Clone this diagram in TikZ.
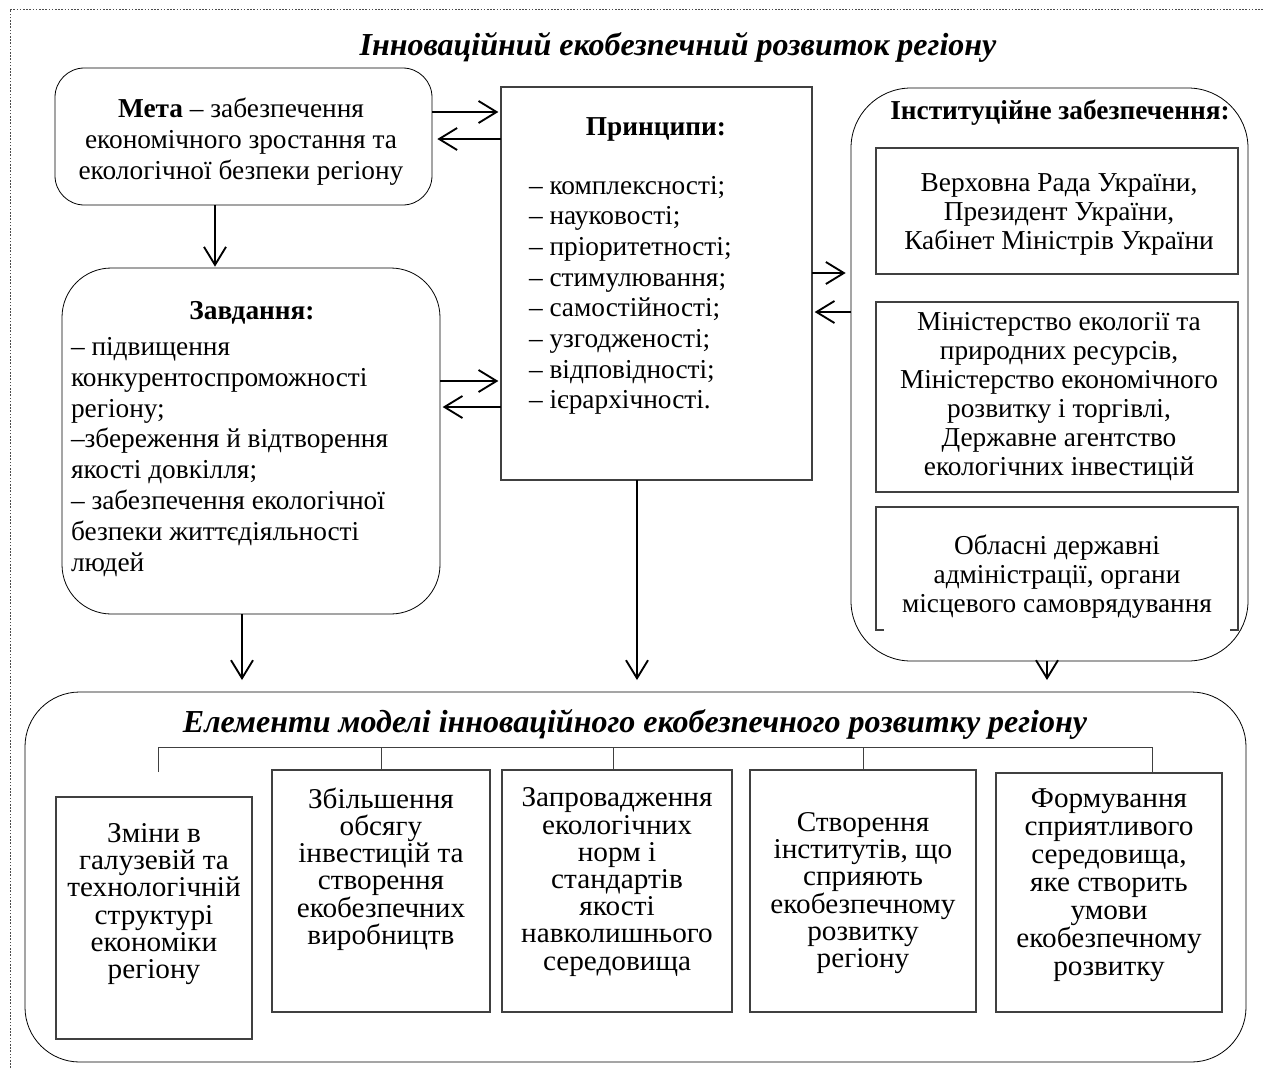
\documentclass[tikz,border=0pt]{standalone}
\usepackage{fontspec}
\setmainfont{Liberation Serif}
\newfontfamily\boxserif[FakeStretch=1.02]{Liberation Serif}
\usetikzlibrary{arrows.meta}
\begin{document}
\begin{tikzpicture}[x=0.75pt,y=-0.75pt,
  every node/.style={inner sep=0pt, outer sep=0pt},
  txt/.style={font=\fontsize{20.5}{23.5}\selectfont, align=center},
  hd/.style={font=\fontsize{20.5}{23.5}\selectfont\bfseries, anchor=base},
  btxt/.style={font=\boxserif\fontsize{21.5}{20.4}\selectfont, align=center},
  ttl/.style={font=\fontsize{24}{28}\selectfont\bfseries\itshape, anchor=base},
  rbox/.style={draw=black, line width=0.6pt},
  sbox/.style={draw=black!75, line width=0.8pt},
  arr/.style={-{Straight Barb[length=13.5pt,width=16.5pt,line width=1.4pt]}, line width=1.4pt},
  thinl/.style={draw=black!75, line width=0.7pt},
  frame/.style={draw=black!70, line width=0.6pt, dash pattern=on 1.2pt off 1.2pt}]
\useasboundingbox (0,0) rectangle (1264,1068);
% dotted frame
\coordinate (fA) at (10,1068);
\coordinate (fB) at (10,9);
\coordinate (fC) at (1264,9);
\draw[frame] (fA) -- (fB) -- (fC);

% title
\node[ttl] (title) at (678,55) {Інноваційний екобезпечний розвиток регіону};

% boxes
\node[rbox, rounded corners=22pt, minimum width={377*0.75pt}, minimum height={137*0.75pt}] (meta) at (243.5,136.5) {};
\node[rbox, rounded corners=37pt, minimum width={378*0.75pt}, minimum height={346*0.75pt}] (zav) at (251,441) {};
\node[sbox, minimum width={311*0.75pt}, minimum height={393*0.75pt}] (princ) at (656.5,283.5) {};
\node[rbox, rounded corners=45pt, minimum width={397*0.75pt}, minimum height={573*0.75pt}] (inst) at (1049.5,374.5) {};
\node[sbox, minimum width={362*0.75pt}, minimum height={126*0.75pt}] (i1) at (1057,211) {};
\node[sbox, minimum width={362*0.75pt}, minimum height={190*0.75pt}] (i2) at (1057,397) {};
\node[minimum width={362*0.75pt}, minimum height={123*0.75pt}] (i3) at (1057,568.5) {};
\draw[sbox] ([xshift=6pt]i3.south west) -- (i3.south west) -- (i3.north west) -- (i3.north east) -- (i3.south east) -- ([xshift=-6pt]i3.south east);

\node[rbox, rounded corners=41pt, minimum width={1221*0.75pt}, minimum height={370*0.75pt}] (elem) at (635.5,877) {};
\node[sbox, minimum width={196*0.75pt}, minimum height={242*0.75pt}] (b1) at (154,918) {};
\node[sbox, minimum width={218*0.75pt}, minimum height={242*0.75pt}] (b2) at (381,891) {};
\node[sbox, minimum width={230*0.75pt}, minimum height={242*0.75pt}] (b3) at (617,891) {};
\node[sbox, minimum width={226*0.75pt}, minimum height={242*0.75pt}] (b4) at (863,891) {};
\node[sbox, minimum width={226*0.75pt}, minimum height={239*0.75pt}] (b5) at (1109,892.5) {};

% texts
\node[txt] (metat) at (241,141.5) {\textbf{Мета} – забезпечення\\економічного зростання та\\екологічної безпеки регіону};
\node[hd] (princt) at (656,135) {Принципи:};
\node[txt, align=left, anchor=west, font=\fontsize{20.5}{23}\selectfont] (princl) at (529,295.5) {– комплексності;\\– науковості;\\– пріоритетності;\\– стимулювання;\\– самостійності;\\– узгодженості;\\– відповідності;\\– ієрархічності.};
\node[hd] (zavt) at (252,319) {Завдання:};
\node[txt, align=left, anchor=west, font=\fontsize{20.5}{23.2}\selectfont] (zavl) at (71,457) {– підвищення\\конкурентоспроможності\\регіону;\\–збереження й відтворення\\якості довкілля;\\– забезпечення екологічної\\безпеки життєдіяльності\\людей};
\node[hd] (instt) at (1060,119) {Інституційне забезпечення:};
\node[txt, font=\fontsize{20.5}{21.75}\selectfont] (i1t) at (1059,214) {Верховна Рада України,\\Президент України,\\Кабінет Міністрів України};
\node[txt, font=\fontsize{20.5}{21.75}\selectfont] (i2t) at (1059,396.5) {Міністерство екології та\\природних ресурсів,\\Міністерство економічного\\розвитку і торгівлі,\\Державне агентство\\екологічних інвестицій};
\node[txt, font=\fontsize{20.5}{21.75}\selectfont] (i3t) at (1057,577) {Обласні державні\\адміністрації, органи\\місцевого самоврядування};

\node[ttl] (elemt) at (635,732) {Елементи моделі інноваційного екобезпечного розвитку регіону};
\node[btxt] (b1t) at (154,904) {Зміни в\\галузевій та\\технологічній\\структурі\\економіки\\регіону};
\node[btxt] (b2t) at (381,869) {Збільшення\\обсягу\\інвестицій та\\створення\\екобезпечних\\виробництв};
\node[btxt] (b3t) at (617,882) {Запровадження\\екологічних\\норм і\\стандартів\\якості\\навколишнього\\середовища};
\node[btxt] (b4t) at (863,893) {Створення\\інститутів, що\\сприяють\\екобезпечному\\розвитку\\регіону};
\node[btxt, font=\boxserif\fontsize{21.5}{21}\selectfont] (b5t) at (1109,885) {Формування\\сприятливого\\середовища,\\яке створить\\умови\\екобезпечному\\розвитку};

% bracket
\coordinate (brL) at (158,747);
\coordinate (brLe) at (158,772);
\coordinate (brR) at (1152,747);
\draw[thinl] (brLe) -- (brL) -- (brR) -- (b5.north -| brR);
\draw[thinl] (b2.north |- brL) -- (b2.north);
\draw[thinl] (613,747) coordinate (brc3) -- (b3.north -| brc3);
\draw[thinl] (b4.north |- brL) -- (b4.north);

% arrows
\draw[arr] (meta.east |- 0,112) -- ([xshift=-2pt]princ.west |- 0,112);
\draw[arr, shorten >=4pt] (princ.west |- 0,139) -- (meta.east |- 0,139);
\draw[arr] (zav.east |- 0,381) -- ([xshift=-2pt]princ.west |- 0,381);
\draw[arr, shorten >=2pt] (princ.west |- 0,407) -- (zav.east |- 0,407);
\draw[arr, shorten >=4pt] (princ.east |- 0,273) -- (inst.west |- 0,273);
\draw[arr, shorten >=2pt] (inst.west |- 0,312) -- (princ.east |- 0,312);
\draw[arr, shorten >=1pt] (meta.south -| 215,0) -- (zav.north -| 215,0);
\draw[arr, shorten >=9pt] (zav.south -| 242,0) -- (elem.north -| 242,0);
\draw[arr, shorten >=9pt] (princ.south -| 637,0) -- (elem.north -| 637,0);
\draw[arr, shorten >=9pt] (inst.south -| 1047,0) -- (elem.north -| 1047,0);
\end{tikzpicture}
\end{document}
